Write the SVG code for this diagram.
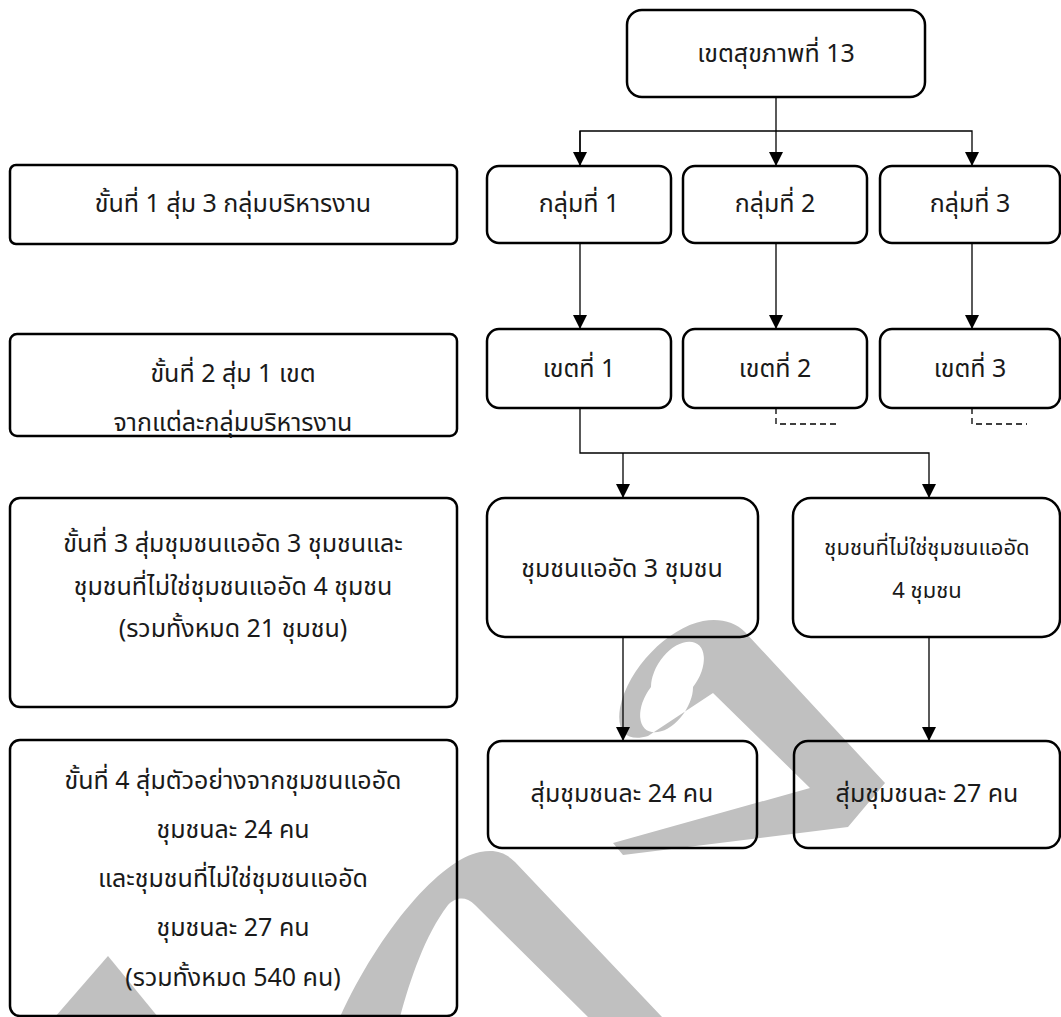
<svg xmlns="http://www.w3.org/2000/svg" width="1061" height="1017" viewBox="0 0 1061 1017">
<style>
  .box { fill: none; stroke: #000; stroke-width: 2.5; }
  .t { font-family: "Noto Sans Thai", "Noto Sans", "DejaVu Sans", sans-serif; font-size: 25px; fill: #1a1a1a; text-anchor: middle; }
  .s { font-size: 22px; }
  .c { fill: none; stroke: #000; stroke-width: 1.3; }
  .d { fill: none; stroke: #000; stroke-width: 1.3; stroke-dasharray: 6 4; }
  .wm { fill: #c0c0c0; }
</style>
<defs>
  <marker id="ah" markerUnits="userSpaceOnUse" markerWidth="14" markerHeight="14" refX="14" refY="7" orient="auto">
    <path d="M0,0 L14,7 L0,14 Z" fill="#000"/>
  </marker>
</defs>
<rect width="1061" height="1017" fill="#fff"/>
<g id="watermark">
  <path class="wm" fill-rule="evenodd" d="M703,621 C668,628 628,668 620,708 C616,733 628,742 648,736 L713,693 L810,788 L613,843 L623,855 L848,827 L885,783 L745,632 C735,622 720,618 703,621 Z M672,687 m-21,0 a21,35 35 1,0 42,0 a21,35 35 1,0 -42,0 Z"/>
  <path class="wm" d="M340,1017 C380,930 440,860 480,852 C495,849 505,852 515,862 L662,1017 L588,1017 L475,905 C465,895 455,898 448,905 C425,935 410,980 400,1017 Z"/>
  <path class="wm" d="M55,1017 L108,956 L158,1017 Z"/>
</g>
<g id="connectors">
  <line class="c" x1="776" y1="97" x2="776" y2="166" marker-end="url(#ah)"/>
  <polyline class="c" points="580,166 580,131 972,131 972,166" marker-end="url(#ah)"/>
  <line class="c" x1="580" y1="131" x2="580" y2="166" marker-end="url(#ah)"/>
  <line class="c" x1="580" y1="243" x2="580" y2="329" marker-end="url(#ah)"/>
  <line class="c" x1="776" y1="243" x2="776" y2="329" marker-end="url(#ah)"/>
  <line class="c" x1="972" y1="243" x2="972" y2="329" marker-end="url(#ah)"/>
  <polyline class="c" points="580,408 580,453 929,453 929,498" marker-end="url(#ah)"/>
  <line class="c" x1="623" y1="453" x2="623" y2="498" marker-end="url(#ah)"/>
  <polyline class="d" points="776,408 776,424 840,424"/>
  <polyline class="d" points="972,408 972,424 1027,424"/>
  <line class="c" x1="623" y1="637" x2="623" y2="741" marker-end="url(#ah)"/>
  <line class="c" x1="929" y1="637" x2="929" y2="741" marker-end="url(#ah)"/>
</g>
<g id="top">
  <rect class="box" x="627" y="10" width="298" height="87" rx="15"/>
  <text class="t" x="776" y="62">เขตสุขภาพที่ 13</text>
</g>
<g id="group1"><rect class="box" x="487" y="166" width="184" height="77" rx="12"/><text class="t" x="579" y="212">กลุ่มที่ 1</text></g>
<g id="group2"><rect class="box" x="683" y="166" width="184" height="77" rx="12"/><text class="t" x="775" y="212">กลุ่มที่ 2</text></g>
<g id="group3"><rect class="box" x="880" y="166" width="180" height="77" rx="12"/><text class="t" x="970" y="212">กลุ่มที่ 3</text></g>
<g id="district1"><rect class="box" x="487" y="329" width="184" height="79" rx="12"/><text class="t" x="579" y="377">เขตที่ 1</text></g>
<g id="district2"><rect class="box" x="683" y="329" width="184" height="79" rx="12"/><text class="t" x="775" y="377">เขตที่ 2</text></g>
<g id="district3"><rect class="box" x="880" y="329" width="180" height="79" rx="12"/><text class="t" x="970" y="377">เขตที่ 3</text></g>
<g id="comm1"><rect class="box" x="487" y="498" width="271" height="139" rx="18"/><text class="t" x="622" y="577">ชุมชนแออัด 3 ชุมชน</text></g>
<g id="comm2"><rect class="box" x="793" y="498" width="267" height="139" rx="18"/><text class="t s" x="927" y="555">ชุมชนที่ไม่ใช่ชุมชนแออัด</text><text class="t s" x="927" y="598">4 ชุมชน</text></g>
<g id="sample1"><rect class="box" x="488" y="741" width="269" height="107" rx="14"/><text class="t" x="622" y="802">สุ่มชุมชนละ 24 คน</text></g>
<g id="sample2"><rect class="box" x="794" y="741" width="266" height="107" rx="14"/><text class="t" x="927" y="802">สุ่มชุมชนละ 27 คน</text></g>
<g id="step1"><rect class="box" x="10" y="165" width="447" height="79" rx="6"/><text class="t" x="233" y="212">ขั้นที่ 1 สุ่ม 3 กลุ่มบริหารงาน</text></g>
<g id="step2"><rect class="box" x="10" y="334" width="447" height="102" rx="7"/><text class="t" x="233" y="382">ขั้นที่ 2 สุ่ม 1 เขต</text><text class="t" x="233" y="431">จากแต่ละกลุ่มบริหารงาน</text></g>
<g id="step3"><rect class="box" x="10" y="498" width="447" height="209" rx="10"/><text class="t" x="233" y="552">ขั้นที่ 3 สุ่มชุมชนแออัด 3 ชุมชนและ</text><text class="t" x="233" y="595">ชุมชนที่ไม่ใช่ชุมชนแออัด 4 ชุมชน</text><text class="t" x="233" y="637">(รวมทั้งหมด 21 ชุมชน)</text></g>
<g id="step4"><rect class="box" x="10" y="740" width="447" height="276" rx="10"/><text class="t" x="233" y="789">ขั้นที่ 4 สุ่มตัวอย่างจากชุมชนแออัด</text><text class="t" x="233" y="838">ชุมชนละ 24 คน</text><text class="t" x="233" y="887">และชุมชนที่ไม่ใช่ชุมชนแออัด</text><text class="t" x="233" y="936">ชุมชนละ 27 คน</text><text class="t" x="233" y="986">(รวมทั้งหมด 540 คน)</text></g>
</svg>
